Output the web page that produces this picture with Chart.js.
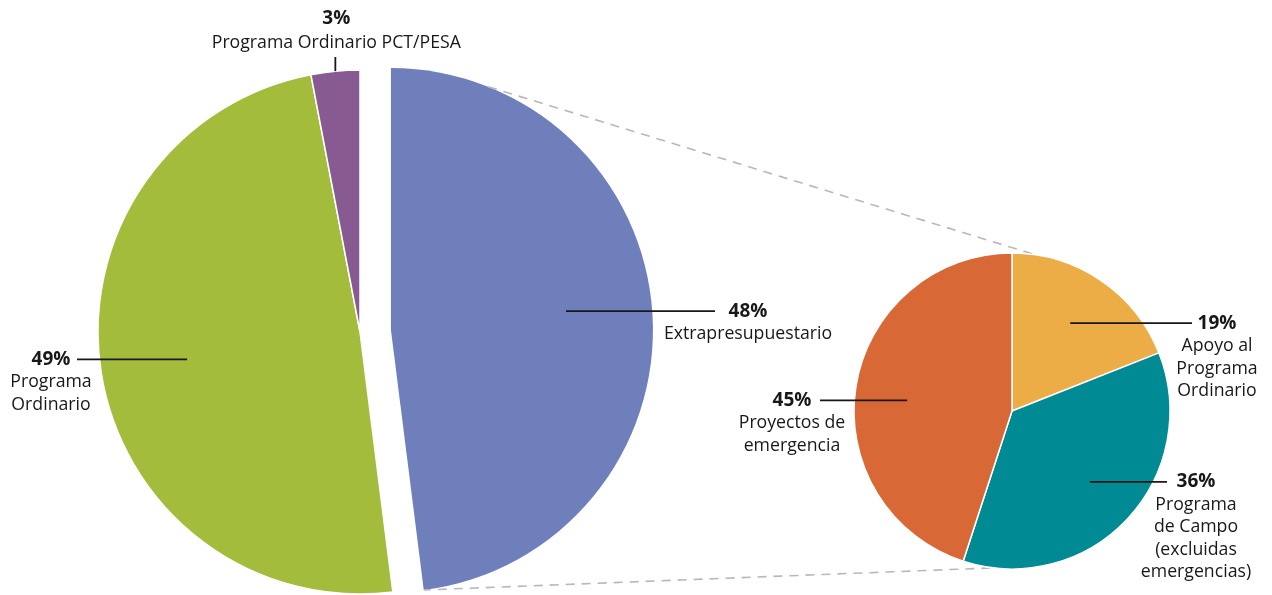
<!DOCTYPE html>
<html>
<head>
<meta charset="utf-8">
<script src="https://cdn.jsdelivr.net/npm/chart.js@4.4.0/dist/chart.umd.min.js"></script>
<style>
  html, body { margin: 0; padding: 0; background: #ffffff; }
  #wrap { position: relative; width: 1272px; height: 595px; overflow: hidden; }
  #wrap canvas { position: absolute; left: 0; top: 0; }
</style>
</head>
<body>
<div id="wrap">
  <canvas id="mainRest" width="1272" height="595"></canvas>
  <canvas id="mainExploded" width="1272" height="595"></canvas>
  <canvas id="detail" width="1272" height="595"></canvas>
</div>
<script>
// ---------------- data ----------------
const mainCategories = ['Extrapresupuestario', 'Programa Ordinario', 'Programa Ordinario PCT/PESA'];
const mainValues = [48, 49, 3];
const mainLabelLines = [['Extrapresupuestario'], ['Programa', 'Ordinario'], ['Programa Ordinario PCT/PESA']];

const detailCategories = ['Apoyo al Programa Ordinario', 'Programa de Campo (excluidas emergencias)', 'Proyectos de emergencia'];
const detailValues = [19, 36, 45];
const detailLabelLines = [['Apoyo al', 'Programa', 'Ordinario'], ['Programa', 'de Campo', '(excluidas', 'emergencias)'], ['Proyectos de', 'emergencia']];

// ---------------- styles / layout ----------------
const mainColors = ['#6E7FBC', '#A3BC3B', '#885A92'];
const detailColors = ['#ECAD47', '#008A93', '#D86835'];
const W = 1272, H = 595;
const BIG = { cx: 360, cy: 332, r: 262, explode: 31 };
const SMALL = { cx: 1012, cy: 411, r: 158 };
const FONT = '"Open Sans", "Noto Sans", sans-serif';
const FONT_SIZE = 17.7;
const PCT_SIZE = 19;
const LINE_PITCH = 22.5;
const TEXT_COLOR = '#1A1718';
const EXPLODED = 0;

// annotation placement (label text / leader line positions)
const mainLabelSpecs = [
  { frac: 0.485, rFrac: 0.672, lineToX: 715, textX: 748 },
  { frac: 0.5, rFrac: 0.668, lineToX: 77, textX: 51 },
  { frac: 0.5, rFrac: 1.0, up: true, lineToY: 57 }
];
const detailLabelSpecs = [
  { frac: 0.49, rFrac: 0.667, lineToX: 1192, textX: 1217 },
  { frac: 0.493, rFrac: 0.667, lineToX: 1167, textX: 1196 },
  { frac: 0.48, rFrac: 0.667, lineToX: 820, textX: 792 }
];

function pct(values, i) {
  const total = values.reduce((a, b) => a + b, 0);
  return Math.round(values[i] / total * 100) + '%';
}

function arcPoint(arc, frac, rFrac) {
  const a = arc.startAngle + (arc.endAngle - arc.startAngle) * frac;
  const rr = arc.outerRadius * rFrac;
  return { x: arc.x + rr * Math.cos(a), y: arc.y + rr * Math.sin(a) };
}

function paddingFor(cx, cy, r) {
  return { left: cx - r, right: W - cx - r, top: cy - r, bottom: H - cy - r };
}

function labelPlugin(specs, lines, values, indices) {
  return {
    id: 'sliceLabels',
    afterDatasetsDraw(chart) {
      const ctx = chart.ctx;
      const arcs = chart.getDatasetMeta(0).data;
      ctx.save();
      indices.forEach(i => {
        const s = specs[i];
        const p = arcPoint(arcs[i], s.frac, s.rFrac);
        ctx.strokeStyle = TEXT_COLOR;
        ctx.lineWidth = 1.8;
        ctx.beginPath();
        ctx.fillStyle = TEXT_COLOR;
        ctx.textBaseline = 'alphabetic';
        ctx.textAlign = 'center';
        if (s.up) {
          ctx.moveTo(p.x, p.y);
          ctx.lineTo(p.x, s.lineToY);
          ctx.stroke();
          const tx = p.x + 1;
          let base = s.lineToY - 9;
          for (let k = lines[i].length - 1; k >= 0; k--) {
            ctx.font = FONT_SIZE + 'px ' + FONT;
            ctx.fillText(lines[i][k], tx, base);
            base -= LINE_PITCH + 1.5;
          }
          ctx.font = 'bold ' + PCT_SIZE + 'px ' + FONT;
          ctx.fillText(pct(values, i), tx, base);
        } else {
          ctx.moveTo(p.x, p.y);
          ctx.lineTo(s.lineToX, p.y);
          ctx.stroke();
          let base = p.y + 5.5;
          ctx.font = 'bold ' + PCT_SIZE + 'px ' + FONT;
          ctx.fillText(pct(values, i), s.textX, base);
          ctx.font = FONT_SIZE + 'px ' + FONT;
          lines[i].forEach(t => {
            base += LINE_PITCH;
            ctx.fillText(t, s.textX, base);
          });
        }
      });
      ctx.restore();
    }
  };
}

function pieChart(id, labels, values, colors, borderWidths, pad, radius, plugins) {
  return new Chart(document.getElementById(id), {
    type: 'pie',
    data: {
      labels: labels,
      datasets: [{
        data: values,
        backgroundColor: colors,
        borderColor: '#ffffff',
        borderWidth: borderWidths,
        radius: radius,
        clip: false
      }]
    },
    options: {
      responsive: false,
      animation: false,
      events: [],
      layout: { padding: pad },
      plugins: { legend: { display: false }, tooltip: { enabled: false } }
    },
    plugins: plugins
  });
}

// big pie without the exploded slice
const restColors = mainColors.map((c, i) => i === EXPLODED ? 'rgba(0,0,0,0)' : c);
const restBorders = mainValues.map((v, i) => i === EXPLODED ? 0 : 1.5);
const mainRest = pieChart('mainRest', mainCategories, mainValues, restColors, restBorders,
  paddingFor(BIG.cx, BIG.cy, BIG.r), BIG.r,
  [labelPlugin(mainLabelSpecs, mainLabelLines, mainValues, [1, 2])]);

// exploded slice, shifted along its mid-angle
const totalMain = mainValues.reduce((a, b) => a + b, 0);
const startFrac = mainValues.slice(0, EXPLODED).reduce((a, b) => a + b, 0) / totalMain;
const midFrac = startFrac + mainValues[EXPLODED] / totalMain / 2;
const midAng = midFrac * 2 * Math.PI;
const ex = Math.sin(midAng) * BIG.explode, ey = -Math.cos(midAng) * BIG.explode;
const exColors = mainColors.map((c, i) => i === EXPLODED ? c : 'rgba(0,0,0,0)');
const exBorders = mainValues.map(() => 0);
const mainExploded = pieChart('mainExploded', mainCategories, mainValues, exColors, exBorders,
  paddingFor(BIG.cx + ex, BIG.cy + ey, BIG.r), BIG.r,
  [labelPlugin(mainLabelSpecs, mainLabelLines, mainValues, [EXPLODED])]);

// connectors from exploded slice to the breakdown pie
const connectorPlugin = {
  id: 'connectors',
  beforeDatasetsDraw(chart) {
    const ctx = chart.ctx;
    const bigArc = mainExploded.getDatasetMeta(0).data[EXPLODED];
    const small = chart.getDatasetMeta(0).data;
    const pairs = [
      [arcPoint(bigArc, 0.126, 1), arcPoint(small[0], 0.123, 1)],
      [arcPoint(bigArc, 1.0, 1), arcPoint(small[1], 0.914, 1)]
    ];
    ctx.save();
    ctx.strokeStyle = '#B8B8B8';
    ctx.lineWidth = 1.6;
    ctx.setLineDash([9, 7]);
    pairs.forEach(([a, b], k) => {
      ctx.beginPath();
      ctx.lineDashOffset = k === 1 ? -14 : 0;
      ctx.moveTo(a.x, a.y);
      ctx.lineTo(b.x, b.y);
      ctx.stroke();
    });
    ctx.restore();
  }
};

const detail = pieChart('detail', detailCategories, detailValues, detailColors, 1.5,
  paddingFor(SMALL.cx, SMALL.cy, SMALL.r), SMALL.r,
  [connectorPlugin, labelPlugin(detailLabelSpecs, detailLabelLines, detailValues, [0, 1, 2])]);
</script>
</body>
</html>
